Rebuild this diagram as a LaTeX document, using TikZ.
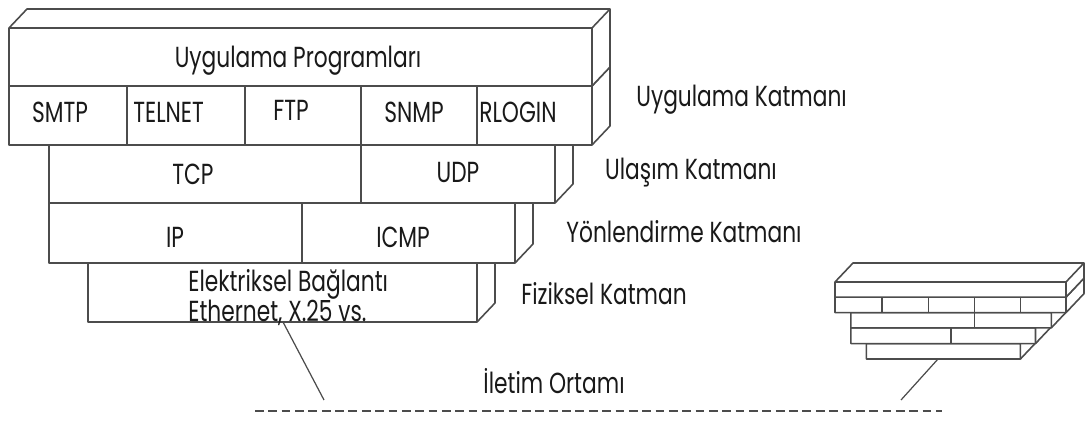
\documentclass[tikz,border=0pt]{standalone}
\usepackage{fontspec}
\setmainfont{Poppins}[FakeStretch=0.75]

\tikzset{
    katman/.style={draw=black!70, line width=0.9pt, fill=white, line join=round},
    kenar/.style={draw=black!70, line width=0.9pt},
    yazi/.style={font=\fontsize{16.5}{19}\selectfont, inner sep=0pt, text=black!90},
}

% one block: front face (#1,#2)-(#3,#4), plus top and right side
\newcommand{\blok}[4]{%
    \filldraw[katman] (#1,#2) -- ++(\derinx,-\deriny) -- (#3+\derinx,#2-\deriny)
        -- (#3+\derinx,#4-\deriny) -- (#3,#4) -- (#1,#4) -- cycle;
    \draw[kenar] (#1,#2) -- (#3,#2) -- (#3,#4) (#3,#2) -- ++(\derinx,-\deriny);
}

% the whole stack, lowest layer first
\newcommand{\katmanyigini}{%
    \blok{88}{263}{477}{322}
    \blok{49}{203}{515}{263}
    \draw[kenar] (302,203) -- (302,263);
    \blok{49}{145}{555}{203}
    \draw[kenar] (361,145) -- (361,203);
    \blok{9}{86}{592}{145}
    \foreach \x in {127,245,361,477}
        \draw[kenar] (\x,86) -- (\x,145);
    \blok{9}{28}{592}{86}
}

\begin{document}
\begin{tikzpicture}[x=0.02cm, y=-0.02cm]
    \useasboundingbox (0,0) rectangle (1088,421);

    % big stack
    \def\derinx{18}\def\deriny{19}
    \katmanyigini

    \node[yazi, anchor=base] (uprog) at (298,68) {Uygulama Programları};
    \node[yazi, anchor=base] (smtp) at (60,123) {SMTP};
    \node[yazi, anchor=base west] (telnet) at (133,123) {TELNET};
    \node[yazi, anchor=base] (ftp) at (291,121) {FTP};
    \node[yazi, anchor=base] (snmp) at (414,123) {SNMP};
    \node[yazi, anchor=base west] (rlogin) at (479,123) {RLOGIN};
    \node[yazi, anchor=base] (tcp) at (193,185) {TCP};
    \node[yazi, anchor=base] (udp) at (458,183) {UDP};
    \node[yazi, anchor=base] (ip) at (175,248) {IP};
    \node[yazi, anchor=base] (icmp) at (403,248) {ICMP};
    \node[yazi, anchor=base west] (elek) at (188,292) {Elektriksel Bağlantı};
    \node[yazi, anchor=base west] (eth) at (188,322) {Ethernet, X.25 vs.};

    % layer names
    \node[yazi, anchor=base west] (uygk) at (636,107) {Uygulama Katmanı};
    \node[yazi, anchor=base] (ulak) at (691,180) {Ulaşım Katmanı};
    \node[yazi, anchor=base] (yonk) at (684,243) {Yönlendirme Katmanı};
    \node[yazi, anchor=base] (fizk) at (604,305) {Fiziksel Katman};

    % small stack on the right
    \begin{scope}[shift={(831.43,274.67)}, xscale=0.3962, yscale=0.2619]
        \def\derinx{45.43}\def\deriny{72.55}
        \katmanyigini
    \end{scope}

    % transmission medium
    \coordinate (hatbas) at (255,411);
    \coordinate (hatson) at (942,411);
    \draw[kenar, dash pattern=on 5pt off 2.6pt] (hatbas) -- (hatson);
    \node[yazi, anchor=base] (ortam) at (554,394) {İletim Ortamı};

    \coordinate (fizalt) at (283,322);
    \coordinate (solayak) at (324,400);
    \draw[kenar, line width=0.7pt] (fizalt) -- (solayak);
    \coordinate (ikonalt) at (938,359);
    \coordinate (sagayak) at (901,400);
    \draw[kenar, line width=0.7pt] (ikonalt) -- (sagayak);
\end{tikzpicture}
\end{document}
